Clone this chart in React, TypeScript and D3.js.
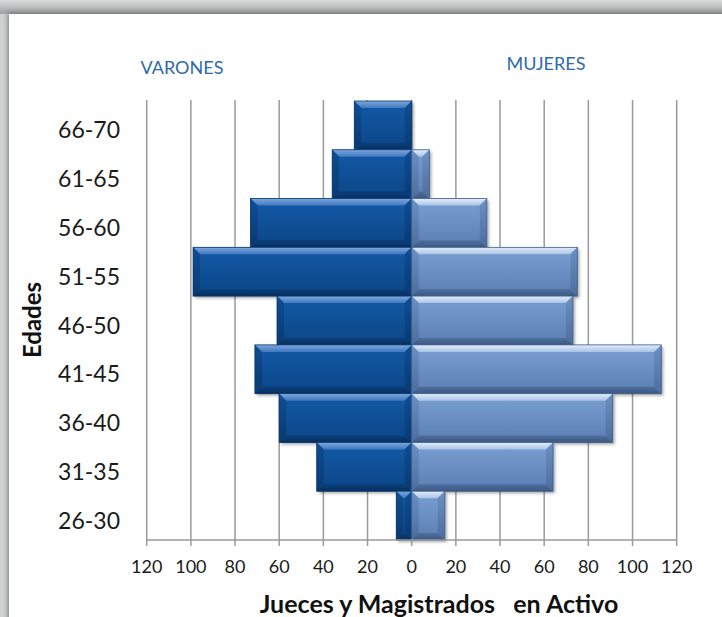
import React from "react";
import * as d3 from "d3";

const categories = ["66-70", "61-65", "56-60", "51-55", "46-50", "41-45", "36-40", "31-35", "26-30"];
const varones = [26, 36, 73, 99, 61, 71, 60, 43, 7];
const mujeres = [0, 8, 34, 75, 73, 113, 91, 64, 15];
const tickValues = [-120, -100, -80, -60, -40, -20, 0, 20, 40, 60, 80, 100, 120];

const W = 722;
const H = 617;
const FONT = "Lato, 'Open Sans', sans-serif";

function Bar({ x0, x1, y0, y1, kind }: { x0: number; x1: number; y0: number; y1: number; kind: "m" | "f" }) {
  const w = x1 - x0;
  const h = y1 - y0;
  if (w <= 0.5) return null;
  const b = Math.min(7, w / 2, h / 2);
  const p = kind;
  return (
    <g>
      <rect x={x0 + 2} y={y0 + 2} width={w} height={h} fill="rgba(0,0,0,0.35)" filter="url(#blur)" />
      <rect x={x0} y={y0} width={w} height={h} fill={`url(#body-${p})`} />
      <polygon points={`${x0},${y0} ${x1},${y0} ${x1 - b},${y0 + b} ${x0 + b},${y0 + b}`} fill={`url(#top-${p})`} />
      <polygon points={`${x0},${y1} ${x1},${y1} ${x1 - b},${y1 - b} ${x0 + b},${y1 - b}`} fill={`url(#bot-${p})`} />
      <polygon points={`${x0},${y0} ${x0 + b},${y0 + b} ${x0 + b},${y1 - b} ${x0},${y1}`} fill={`url(#side-${p})`} />
      <polygon points={`${x1},${y0} ${x1 - b},${y0 + b} ${x1 - b},${y1 - b} ${x1},${y1}`} fill={`url(#side-${p})`} />
      <rect x={x0} y={y0} width={w} height={h} fill="none" stroke={p === "m" ? "#0a3a70" : "#3d5f8e"} strokeWidth={0.8} />
    </g>
  );
}

export default function App() {
  const x = d3.scaleLinear().domain([-120, 120]).range([146.7, 676.7]);
  const y = d3.scaleBand<string>().domain(categories).range([101, 540]).padding(0);
  const plotTop = 100;
  const axisY = 540;
  const cx = x(0);

  return (
    <svg width={W} height={H} style={{ position: "absolute", left: 0, top: 0, display: "block" }}>
      <defs>
        <linearGradient id="bg-top" x1="0" y1="0" x2="0" y2="1">
          <stop offset="0" stopColor="#d9dbdb" />
          <stop offset="1" stopColor="#9fa2a2" />
        </linearGradient>
        <linearGradient id="bg-left" x1="0" y1="0" x2="1" y2="0">
          <stop offset="0" stopColor="#cfd1d1" />
          <stop offset="1" stopColor="#a3a5a5" />
        </linearGradient>
        <filter id="panelShadow" x="-5%" y="-5%" width="110%" height="110%">
          <feDropShadow dx="-1" dy="-1" stdDeviation="2.5" floodColor="#555" floodOpacity="0.7" />
        </filter>
        <filter id="blur" x="-10%" y="-10%" width="120%" height="120%">
          <feGaussianBlur stdDeviation="1.5" />
        </filter>
        <linearGradient id="body-m" x1="0" y1="0" x2="0" y2="1">
          <stop offset="0" stopColor="#135aa8" />
          <stop offset="1" stopColor="#0b4586" />
        </linearGradient>
        <linearGradient id="top-m" x1="0" y1="0" x2="0" y2="1">
          <stop offset="0" stopColor="#7ea8dc" />
          <stop offset="1" stopColor="#3f78bf" />
        </linearGradient>
        <linearGradient id="bot-m" x1="0" y1="0" x2="0" y2="1">
          <stop offset="0" stopColor="#0a3f7c" />
          <stop offset="1" stopColor="#082f5e" />
        </linearGradient>
        <linearGradient id="side-m" x1="0" y1="0" x2="0" y2="1">
          <stop offset="0" stopColor="#0f4d93" />
          <stop offset="1" stopColor="#093a72" />
        </linearGradient>
        <linearGradient id="body-f" x1="0" y1="0" x2="0" y2="1">
          <stop offset="0" stopColor="#7a9fd2" />
          <stop offset="1" stopColor="#5a7eb3" />
        </linearGradient>
        <linearGradient id="top-f" x1="0" y1="0" x2="0" y2="1">
          <stop offset="0" stopColor="#e3edf9" />
          <stop offset="1" stopColor="#a9c3e6" />
        </linearGradient>
        <linearGradient id="bot-f" x1="0" y1="0" x2="0" y2="1">
          <stop offset="0" stopColor="#4f6f9e" />
          <stop offset="1" stopColor="#3c5882" />
        </linearGradient>
        <linearGradient id="side-f" x1="0" y1="0" x2="0" y2="1">
          <stop offset="0" stopColor="#6c90c4" />
          <stop offset="1" stopColor="#4d6d9c" />
        </linearGradient>
      </defs>

      {/* frame */}
      <rect x={0} y={0} width={W} height={H} fill="url(#bg-left)" />
      <rect x={0} y={0} width={W} height={14} fill="url(#bg-top)" />
      <rect x={9} y={14} width={W} height={H} fill="#ffffff" filter="url(#panelShadow)" />

      {/* gridlines */}
      {tickValues.map((t) => (
        <line key={`g${t}`} x1={x(t)} x2={x(t)} y1={plotTop} y2={axisY} stroke="#9a9a9a" strokeWidth={1.5} />
      ))}

      {/* bars */}
      {categories.map((c, i) => {
        const y0 = y(c)!;
        const y1 = y0 + y.bandwidth();
        return (
          <g key={c}>
            <Bar x0={x(-varones[i])} x1={cx} y0={y0} y1={y1} kind="m" />
            <Bar x0={cx} x1={x(mujeres[i])} y0={y0} y1={y1} kind="f" />
          </g>
        );
      })}

      {/* axis */}
      <line x1={x(-120)} x2={x(120)} y1={axisY} y2={axisY} stroke="#9a9a9a" strokeWidth={1.5} />
      {tickValues.map((t) => (
        <g key={`t${t}`}>
          <line x1={x(t)} x2={x(t)} y1={axisY} y2={axisY + 6} stroke="#9a9a9a" strokeWidth={1.5} />
          <text x={x(t)} y={axisY + 33} textAnchor="middle" fontFamily={FONT} fontSize={18} fill="#1a1a1a">
            {Math.abs(t)}
          </text>
        </g>
      ))}

      {/* category labels */}
      {categories.map((c) => (
        <text key={`l${c}`} x={120} y={y(c)! + y.bandwidth() / 2 + 13} textAnchor="end" fontFamily={FONT} fontSize={23} fill="#1a1a1a">
          {c}
        </text>
      ))}

      <text transform="translate(41,320) rotate(-90)" textAnchor="middle" fontFamily={FONT} fontSize={24} fontWeight="bold" fill="#111">
        Edades
      </text>

      <text x={182} y={74} textAnchor="middle" fontFamily={FONT} fontSize={18} fill="#2f6aa8">
        VARONES
      </text>
      <text x={546} y={70} textAnchor="middle" fontFamily={FONT} fontSize={18} fill="#2f6aa8">
        MUJERES
      </text>

      <text x={439} y={613} textAnchor="middle" fontFamily={FONT} fontSize={25} fontWeight="bold" fill="#111" style={{ whiteSpace: "pre" }}>
        {"Jueces y Magistrados   en Activo"}
      </text>
    </svg>
  );
}
